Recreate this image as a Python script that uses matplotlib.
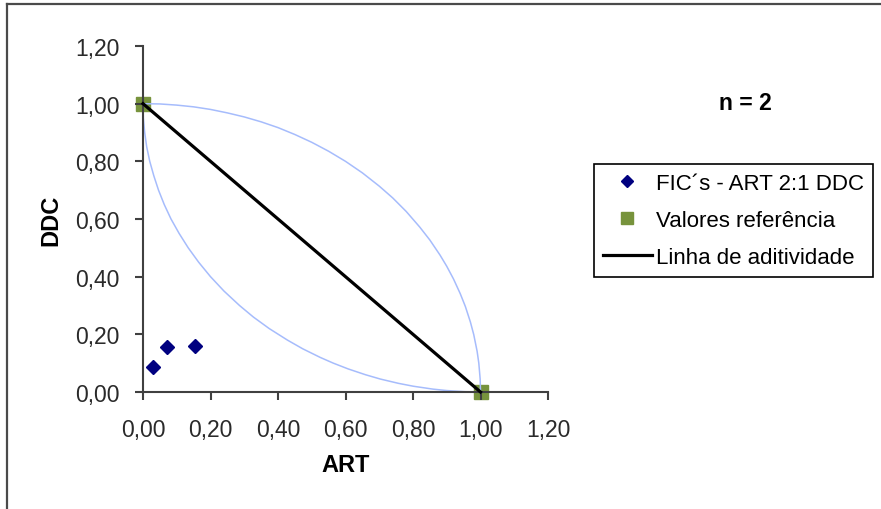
import numpy as np
import matplotlib
matplotlib.use("Agg")
import matplotlib.pyplot as plt
from matplotlib.lines import Line2D
from matplotlib.ticker import FuncFormatter

plt.rcParams['font.family'] = ['Liberation Sans', 'DejaVu Sans']

# ----- data -----
fic_art = [0.03, 0.07, 0.155]
fic_ddc = [0.085, 0.155, 0.16]

ref_art = [0.0, 1.0]
ref_ddc = [1.0, 0.0]

add_art = [0.0, 1.0]
add_ddc = [1.0, 0.0]

# upper and lower limit curves (read point by point)
upper_x = [0.0, 0.05, 0.10, 0.15, 0.20, 0.25, 0.30, 0.35, 0.40, 0.45, 0.50, 0.55,
           0.60, 0.65, 0.70, 0.74, 0.78, 0.82, 0.85, 0.88, 0.90, 0.92, 0.94, 0.955,
           0.97, 0.98, 0.99, 0.995, 0.999, 1.0]
upper_y = [1.0, 0.999, 0.995, 0.989, 0.98, 0.968, 0.954, 0.937, 0.917, 0.893, 0.866,
           0.835, 0.80, 0.76, 0.714, 0.673, 0.626, 0.572, 0.527, 0.475, 0.436, 0.392,
           0.341, 0.297, 0.243, 0.199, 0.141, 0.10, 0.045, 0.0]
lower_x = [0.0, 0.001, 0.005, 0.011, 0.02, 0.032, 0.046, 0.063, 0.083, 0.107, 0.134,
           0.165, 0.20, 0.24, 0.286, 0.327, 0.374, 0.428, 0.473, 0.525, 0.564, 0.608,
           0.659, 0.703, 0.757, 0.801, 0.859, 0.90, 0.955, 1.0]
lower_y = [1.0, 0.95, 0.90, 0.85, 0.80, 0.75, 0.70, 0.65, 0.60, 0.55, 0.50, 0.45,
           0.40, 0.35, 0.30, 0.26, 0.22, 0.18, 0.15, 0.12, 0.10, 0.08, 0.06, 0.045,
           0.03, 0.02, 0.01, 0.005, 0.001, 0.0]

ticks = [0.0, 0.2, 0.4, 0.6, 0.8, 1.0, 1.2]

W, H = 881, 510
fig = plt.figure(figsize=(W / 100, H / 100), dpi=100)
fig.patch.set_facecolor('white')

# axes box in pixels: x 143..548, y 47..393
ax = fig.add_axes([143 / W, 1 - 393 / H, (548 - 143) / W, (393 - 47) / H])

curve_col = '#a6bcfc'
ax.plot(upper_x, upper_y, color=curve_col, lw=1.1, zorder=2, clip_on=False)
ax.plot(lower_x, lower_y, color=curve_col, lw=1.1, zorder=2, clip_on=False)

ax.plot(ref_art, ref_ddc, 's', color='#77933c', ms=10, mec='#77933c',
        zorder=1, clip_on=False)
ax.plot(add_art, add_ddc, color='black', lw=2.3, zorder=3, clip_on=False)
ax.plot(fic_art, fic_ddc, 'D', color='#000080', ms=7, ls='none', zorder=4)

ax.set_xlim(0, 1.2)
ax.set_ylim(0, 1.2)
ax.set_xticks(ticks)
ax.set_yticks(ticks)
fmt = FuncFormatter(lambda v, p: ('%.2f' % v).replace('.', ','))
ax.xaxis.set_major_formatter(fmt)
ax.yaxis.set_major_formatter(fmt)

for s in ['top', 'right']:
    ax.spines[s].set_visible(False)
for s in ['left', 'bottom']:
    ax.spines[s].set_color('#404040')
    ax.spines[s].set_linewidth(1.5)

ax.tick_params(axis='both', direction='out', length=6, width=1.5, color='#404040',
               labelsize=16.5, labelcolor='#2a2a2a')
ax.tick_params(axis='x', pad=13)
ax.tick_params(axis='y', pad=11)

ax.set_xlabel('ART', fontsize=17, fontweight='bold', labelpad=8)
ax.set_ylabel('DDC', fontsize=17, fontweight='bold', labelpad=9)

fig.text(745 / W, 1 - 104 / H, 'n = 2', fontsize=16.5, fontweight='bold',
         ha='center', va='center')

handles = [
    Line2D([], [], marker='D', color='#000080', ls='none', ms=6),
    Line2D([], [], marker='s', color='#77933c', ls='none', ms=8),
    Line2D([], [], color='black', lw=2.3),
]
labels = ['FIC´s - ART 2:1 DDC', 'Valores referência', 'Linha de aditividade']
leg = fig.legend(handles, labels, loc='upper left',
                 bbox_to_anchor=(594 / W, 1 - 165 / H), fontsize=16,
                 frameon=True, fancybox=False, edgecolor='black', framealpha=1,
                 handlelength=2.2, handletextpad=0.2, borderpad=0.4,
                 labelspacing=0.72, borderaxespad=0)
leg.get_frame().set_linewidth(1.2)

# outer frame of the screenshot (top and left only)
fig.add_artist(Line2D([7 / W, 1], [1 - 5 / H, 1 - 5 / H], transform=fig.transFigure,
                      color='#4a4a4a', lw=1.6))
fig.add_artist(Line2D([7 / W, 7 / W], [0, 1 - 5 / H], transform=fig.transFigure,
                      color='#4a4a4a', lw=1.6))

fig.savefig('out.png', dpi=100)
